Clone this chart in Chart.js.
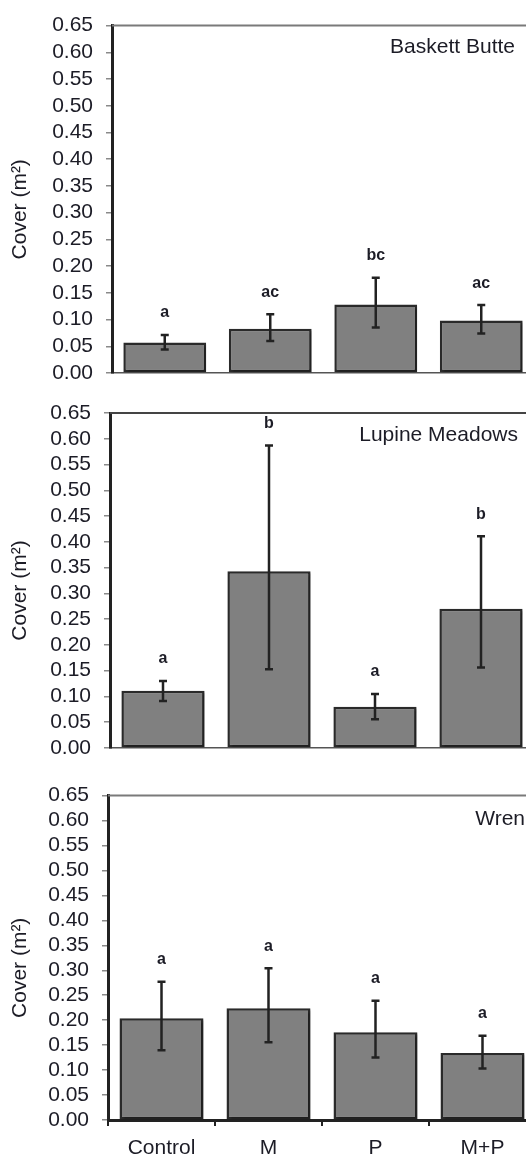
<!DOCTYPE html>
<html>
<head>
<meta charset="utf-8">
<title>Cover by treatment and site</title>
<script src="https://cdn.jsdelivr.net/npm/chart.js@4.4.1/dist/chart.umd.min.js"></script>
<style>
  html, body { margin: 0; padding: 0; background: #fff; overflow: hidden; width: 526px; height: 1155px; }
  .panel { position: absolute; left: 0; }
  canvas { display: block; }
</style>
</head>
<body>
<div class="panel" style="top:0px"><canvas id="baskett" width="534" height="403"></canvas></div>
<div class="panel" style="top:385px"><canvas id="lupine" width="534" height="393"></canvas></div>
<div class="panel" style="top:770px"><canvas id="wren" width="536" height="385"></canvas></div>
<script>
// Treatments shown on the shared x axis
const treatments = ['Control', 'M', 'P', 'M+P'];

// Cover axis ticks (m²)
const yTickValues = [0, 0.05, 0.10, 0.15, 0.20, 0.25, 0.30, 0.35, 0.40, 0.45, 0.50, 0.55, 0.60, 0.65];
const yTickLabels = ['0.00', '0.05', '0.10', '0.15', '0.20', '0.25', '0.30', '0.35', '0.40', '0.45', '0.50', '0.55', '0.60', '0.65'];

// Baskett Butte: mean cover, error bar extents above / below the mean, significance letters
const baskettCover   = [0.057, 0.083, 0.128, 0.098];
const baskettErrUp   = [0.014, 0.027, 0.050, 0.029];
const baskettErrDown = [0.013, 0.023, 0.043, 0.024];
const baskettLetters = ['a', 'ac', 'bc', 'ac'];

// Lupine Meadows
const lupineCover   = [0.111, 0.343, 0.080, 0.270];
const lupineErrUp   = [0.019, 0.244, 0.025, 0.141];
const lupineErrDown = [0.020, 0.190, 0.024, 0.114];
const lupineLetters = ['a', 'b', 'a', 'b'];

// Wren
const wrenCover   = [0.204, 0.224, 0.176, 0.134];
const wrenErrUp   = [0.073, 0.080, 0.063, 0.035];
const wrenErrDown = [0.064, 0.068, 0.051, 0.031];
const wrenLetters = ['a', 'a', 'a', 'a'];

const FONT = "'Liberation Sans', Arial, sans-serif";
const INK = '#1c1c26';

// Error bars, letters, frame line, site name and y title for one panel
function panelDecor(p) {
  return {
    id: 'panelDecor',
    beforeDatasetsDraw(chart) {
      const ctx = chart.ctx;
      ctx.save();
      ctx.shadowColor = 'rgba(0,0,0,0.28)';
      ctx.shadowOffsetX = 2;
      ctx.shadowOffsetY = 2;
      ctx.shadowBlur = 2;
    },
    afterDatasetsDraw(chart) {
      const ctx = chart.ctx;
      ctx.restore();
      const area = chart.chartArea;
      const y = chart.scales.y;
      const meta = chart.getDatasetMeta(0);
      const values = chart.data.datasets[0].data;
      ctx.save();
      // frame line along the top of the plot
      ctx.strokeStyle = p.frameColor;
      ctx.lineWidth = 2;
      ctx.beginPath();
      ctx.moveTo(area.left, area.top);
      ctx.lineTo(chart.width, area.top);
      ctx.stroke();
      // error bars with caps
      ctx.strokeStyle = '#222';
      ctx.lineWidth = 2.5;
      ctx.font = 'bold 16px ' + FONT;
      ctx.fillStyle = INK;
      ctx.textAlign = 'center';
      ctx.textBaseline = 'middle';
      meta.data.forEach((bar, i) => {
        const yHi = y.getPixelForValue(values[i] + p.errUp[i]);
        const yLo = y.getPixelForValue(values[i] - p.errDown[i]);
        ctx.beginPath();
        ctx.moveTo(bar.x, yHi); ctx.lineTo(bar.x, yLo);
        ctx.moveTo(bar.x - 4, yHi); ctx.lineTo(bar.x + 4, yHi);
        ctx.moveTo(bar.x - 4, yLo); ctx.lineTo(bar.x + 4, yLo);
        ctx.stroke();
        ctx.fillText(p.letters[i], bar.x, yHi - 22);
      });
      // site name
      ctx.font = '21px ' + FONT;
      ctx.textAlign = 'right';
      ctx.fillText(p.site, p.siteRight, area.top + p.siteDy);
      // y axis title
      ctx.translate(20, (area.top + area.bottom) / 2 + 10);
      ctx.rotate(-Math.PI / 2);
      ctx.textAlign = 'center';
      ctx.fillText('Cover (m\u00B2)', 0, 0);
      ctx.restore();
    }
  };
}

function makePanel(id, p) {
  const canvas = document.getElementById(id);
  const H = canvas.height;
  return new Chart(canvas, {
    type: 'bar',
    data: {
      labels: treatments,
      datasets: [{
        data: p.cover,
        backgroundColor: '#808080',
        borderColor: '#2a2a2a',
        borderWidth: 2.5,
        borderSkipped: false,
        barPercentage: 0.785,
        categoryPercentage: 1
      }]
    },
    options: {
      responsive: false,
      animation: false,
      events: [],
      layout: { padding: { top: p.plotTop, left: 0, right: 0, bottom: 0 } },
      plugins: { legend: { display: false }, tooltip: { enabled: false } },
      scales: {
        x: {
          type: 'category',
          offset: true,
          afterFit(scale) { scale.height = H - p.plotBottom; },
          grid: {
            display: p.showX,
            drawOnChartArea: false,
            drawTicks: true,
            tickLength: 6,
            offset: true,
            color: '#222',
            lineWidth: 2
          },
          border: { display: true, color: p.xAxisColor, width: p.xAxisWidth },
          ticks: {
            display: p.showX,
            padding: 10,
            color: INK,
            font: { family: FONT, size: 21 }
          }
        },
        y: {
          min: 0,
          max: 0.65,
          afterFit(scale) { scale.width = p.axisX; },
          afterBuildTicks(scale) { scale.ticks = yTickValues.map(v => ({ value: v })); },
          grid: {
            drawOnChartArea: false,
            drawTicks: true,
            tickLength: 6,
            color: '#8a8a8a',
            lineWidth: 1.5
          },
          border: { display: true, color: '#222', width: 3 },
          ticks: {
            autoSkip: false,
            padding: 13,
            color: INK,
            font: { family: FONT, size: 21 },
            callback: (v, i) => yTickLabels[i]
          }
        }
      }
    },
    plugins: [panelDecor(p)]
  });
}

makePanel('baskett', {
  cover: baskettCover, errUp: baskettErrUp, errDown: baskettErrDown, letters: baskettLetters,
  site: 'Baskett Butte', siteRight: 515, siteDy: 22,
  axisX: 112, plotTop: 23, plotBottom: 373,
  showX: false, xAxisColor: '#555', xAxisWidth: 1.5, frameColor: '#7a7a7a'
});

makePanel('lupine', {
  cover: lupineCover, errUp: lupineErrUp, errDown: lupineErrDown, letters: lupineLetters,
  site: 'Lupine Meadows', siteRight: 518, siteDy: 22,
  axisX: 110, plotTop: 28, plotBottom: 363,
  showX: false, xAxisColor: '#555', xAxisWidth: 1.5, frameColor: '#444'
});

makePanel('wren', {
  cover: wrenCover, errUp: wrenErrUp, errDown: wrenErrDown, letters: wrenLetters,
  site: 'Wren', siteRight: 525, siteDy: 24,
  axisX: 108, plotTop: 23, plotBottom: 350,
  showX: true, xAxisColor: '#222', xAxisWidth: 3, frameColor: '#7a7a7a'
});
</script>
</body>
</html>
